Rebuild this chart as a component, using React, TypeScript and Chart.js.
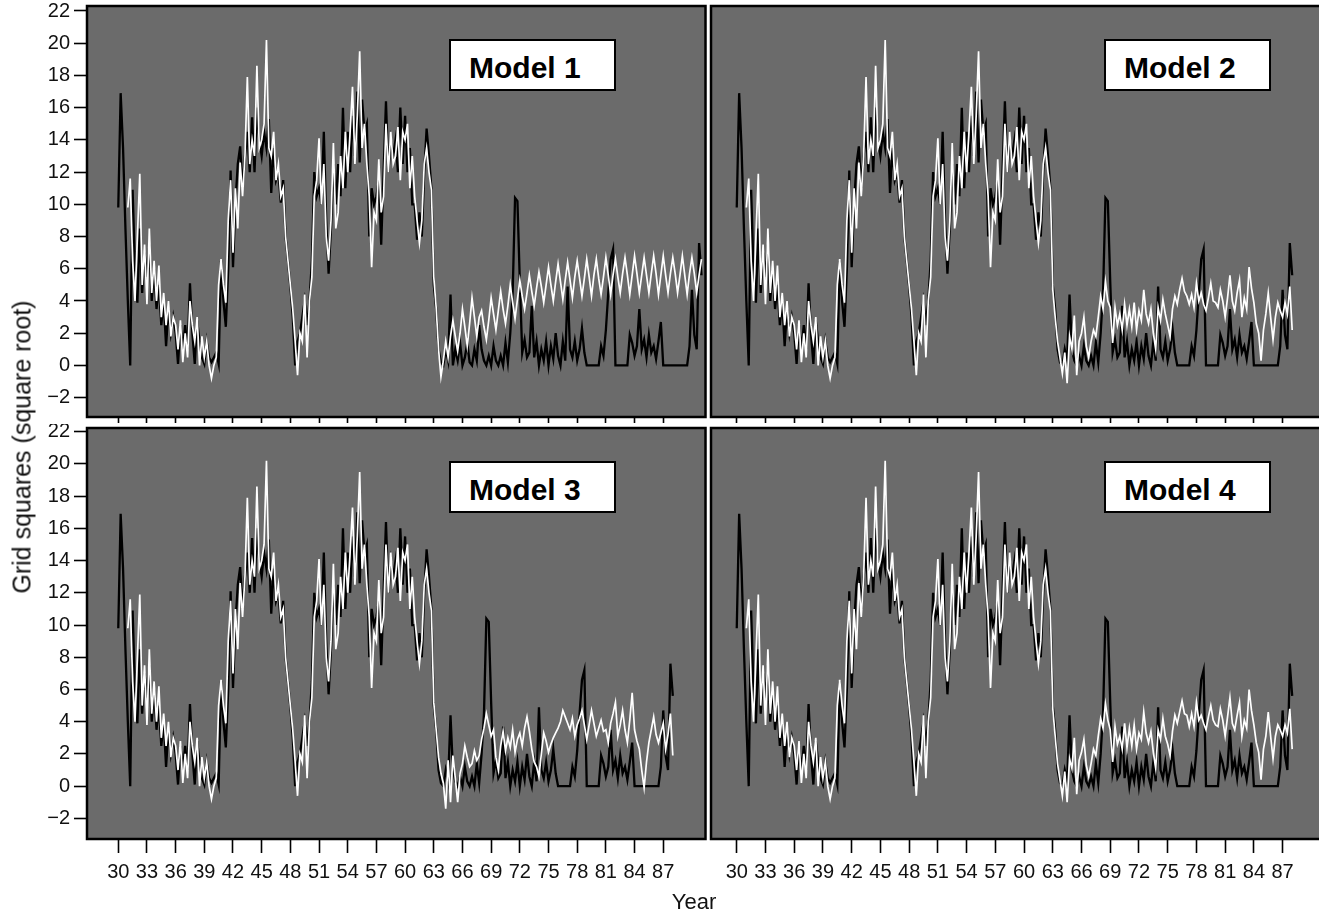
import React, { useEffect, useRef } from "react";
import { Chart, registerables } from "chart.js";

Chart.register(...registerables);

// ---------------- data ----------------
const START_YEAR = 30;
const STEP = 0.25; // quarterly samples

const xTickYears = [30, 33, 36, 39, 42, 45, 48, 51, 54, 57, 60, 63, 66, 69, 72, 75, 78, 81, 84, 87];
const yTickValues = [-2, 0, 2, 4, 6, 8, 10, 12, 14, 16, 18, 20, 22];

// observed grid squares (black), 1930.00 - 1962.75
const observedEarly = [
  9.8, 16.9, 13.5, 8.5,
  4.0, 0.0, 10.9, 6.0,
  3.9, 8.5, 4.5, 7.0,
  5.5, 7.5, 4.0, 6.0,
  3.5, 5.0, 2.5, 4.0,
  1.2, 3.5, 2.0, 3.0,
  2.0, 0.1, 2.5, 1.0,
  2.5, 1.0, 5.1, 2.0,
  0.1, 2.8, 1.5, 0.5,
  0.1, 1.5, 0.5, 0.2,
  0.5, 0.8, 0.1, 6.5,
  4.0, 2.4, 6.0, 12.1,
  6.1, 10.0, 12.5, 13.6,
  11.0, 13.0, 14.5, 12.0,
  15.4, 12.0, 16.0, 14.0,
  13.0, 14.5, 13.5, 15.3,
  10.7, 13.5, 11.5, 12.0,
  10.1, 11.5, 8.0, 6.5,
  4.9, 3.0, 0.0, 1.5,
  2.0, 3.0, 4.0, 2.5,
  4.0, 6.5, 12.0, 10.5,
  11.0, 10.0, 14.5, 9.0,
  5.7, 8.5, 12.5, 10.0,
  12.5, 10.5, 16.0, 11.0,
  14.5, 12.0, 15.5, 13.0,
  17.0, 12.6, 16.5, 14.5,
  15.0, 8.0, 11.0, 10.0,
  10.5, 11.5, 7.5, 12.0,
  16.4, 12.0, 14.0, 13.0,
  14.0, 12.0, 16.0, 12.5,
  15.5, 12.0, 13.5, 10.0,
  10.0, 7.8, 9.5, 8.0,
  12.0, 14.7, 13.0, 11.0,
];

// observed (black), 1963.00 - 1988.00
const observedLate = [
  5.0, 3.5, 1.0, 0.2,
  0.0, 1.0, 0.3, 4.4,
  1.0, 0.3, 0.0, 0.6,
  0.0, 1.2, 0.3, 0.0,
  0.6, 0.0, 1.4, 0.2,
  2.0, 4.5, 10.4, 10.2,
  5.2, 0.8, 1.6, 0.5,
  0.8, 3.7, 0.5, 1.5,
  0.0, 1.0, 0.3, 1.5,
  0.0, 1.2, 0.4, 2.0,
  0.6, 0.0, 1.5, 0.3,
  4.9, 1.0, 0.5, 1.5,
  0.3, 1.0, 2.3, 0.8,
  0.0, 0.0, 0.0, 0.0,
  0.0, 0.0, 1.2, 0.6,
  2.2, 4.5, 6.6, 7.2,
  0.0, 0.0, 0.0, 0.0,
  0.0, 0.0, 1.9, 1.4,
  0.6, 1.2, 3.5, 1.0,
  1.6, 0.5, 1.9, 0.8,
  1.2, 0.4, 1.5, 2.7,
  0.0, 0.0, 0.0, 0.0,
  0.0, 0.0, 0.0, 0.0,
  0.0, 0.0, 0.0, 1.2,
  4.7, 1.9, 1.0, 7.6,
  5.6,
];

// the Model 1 panel shows three extra low years after 1965
const observedExtraModel1 = [
  0.0, 1.0, 0.3, 1.4,
  0.0, 0.5, 1.4, 0.2,
  0.0, 1.0, 0.3, 2.5,
];

// fitted values (white), 1930.00 - 1962.75, common to the models
const fittedEarly = [
  null, null, null, null,
  9.8, 11.6, 6.5, 4.0,
  8.0, 11.9, 5.0, 7.5,
  3.8, 8.5, 4.5, 6.5,
  4.0, 6.2, 3.0, 4.5,
  2.5, 4.0, 1.8, 3.0,
  2.5, 1.0, 2.8, 0.2,
  2.0, 0.5, 4.0, 2.5,
  1.5, 3.0, 0.0, 1.8,
  0.5, 1.5, 0.0, -0.8,
  0.0, 0.5, 5.0, 6.6,
  5.0, 3.9, 9.0, 11.5,
  7.0, 11.0, 8.5, 12.6,
  10.5, 13.0, 17.9, 12.5,
  14.0, 13.0, 18.6, 13.5,
  14.0, 15.0, 20.2, 13.5,
  13.0, 14.5, 11.5, 12.5,
  10.5, 11.0, 8.0, 6.5,
  5.0, 3.5, 1.5, -0.6,
  2.0, 1.5, 4.4, 0.5,
  4.0, 5.5, 10.5, 11.5,
  14.1, 10.0, 12.5, 8.0,
  6.5, 9.0, 13.8, 8.5,
  9.5, 13.0, 11.0, 14.5,
  12.0, 14.5, 17.3, 12.5,
  15.5, 19.5, 13.5, 15.0,
  12.5, 10.5, 6.1, 9.5,
  9.0, 12.8, 9.5, 10.5,
  15.0, 12.0, 14.5, 12.5,
  13.0, 14.8, 11.5, 14.5,
  14.0, 15.0, 11.0, 13.0,
  10.5, 9.0, 7.6, 9.0,
  12.5, 13.5, 12.0, 10.9,
];

// Model 1 fitted (white), 1963.00 - 1991.00
const model1Late = [
  5.5, 3.6, 1.0, -0.7,
  0.3, 1.5, 0.5, 1.8,
  2.8, 1.8, 0.9, 2.0,
  3.5, 2.4, 1.2, 2.6,
  4.2, 3.0, 1.8, 3.0,
  3.4, 2.4, 1.6, 2.8,
  4.2, 3.2, 2.2, 3.4,
  4.6, 3.5, 2.6, 3.7,
  5.0, 3.9, 2.9, 4.1,
  5.3, 4.3, 3.5, 4.5,
  5.6, 4.6, 3.7, 4.8,
  5.8, 4.9, 3.9, 5.0,
  6.1, 5.0, 4.0, 5.2,
  6.3, 5.2, 4.1, 5.3,
  6.4, 5.3, 4.2, 5.5,
  6.5, 5.4, 4.3, 5.4,
  6.6, 5.5, 4.3, 5.6,
  6.6, 5.4, 4.4, 5.5,
  6.7, 5.6, 4.4, 5.6,
  6.6, 5.5, 4.5, 5.7,
  6.7, 5.6, 4.4, 5.6,
  6.8, 5.7, 4.5, 5.6,
  6.7, 5.6, 4.5, 5.7,
  6.8, 5.7, 4.4, 5.6,
  6.8, 5.6, 4.5, 5.7,
  6.7, 5.7, 4.5, 5.6,
  6.8, 5.6, 4.4, 5.7,
  6.7, 5.7, 4.5, 5.6,
  6.6,
];

// Model 2 fitted (white), 1963.00 - 1988.00
const model2Late = [
  4.7, 3.0, 1.5, 0.5,
  -0.5, 0.8, -1.1, 1.8,
  1.0, 3.1, -0.6, 1.5,
  2.0, 3.0, 1.2, 0.5,
  1.5, 2.2, 1.8, 3.0,
  4.3, 3.5, 5.2, 4.0,
  3.6, 1.4, 3.6, 2.5,
  3.2, 2.2, 3.8, 2.5,
  3.5, 2.4, 3.9, 2.2,
  3.4, 2.8, 4.7, 3.2,
  2.6, 3.5, 2.0, 1.0,
  3.6, 2.8, 4.1, 3.2,
  2.5, 1.8, 3.5, 4.3,
  3.8, 4.7, 5.4, 4.6,
  4.3, 3.8, 4.4, 3.6,
  5.1, 4.0, 4.5, 3.8,
  3.4, 4.2, 5.1, 4.0,
  3.9, 3.6, 4.7, 4.0,
  3.0, 4.2, 5.6, 4.0,
  3.4, 4.5, 5.3, 3.0,
  4.2, 3.5, 6.1, 4.8,
  3.9, 2.6, 2.0, 0.3,
  2.2, 3.2, 4.5, 3.0,
  1.6, 3.0, 3.9, 3.4,
  3.0, 3.9, 3.2, 4.9,
  2.2,
];

// Model 3 fitted (white), 1963.00 - 1988.00
const model3Late = [
  5.2, 3.5, 1.8, 0.8,
  0.2, -1.4, 1.6, -1.0,
  1.9, 0.5, -1.0, 0.8,
  1.4, 2.5, 1.8, 1.2,
  1.4, 2.2, 1.6, 1.9,
  2.9, 3.6, 4.5, 3.8,
  3.1, 3.5, 1.8, 1.0,
  2.5, 3.4, 2.2, 3.0,
  2.4, 3.5, 2.1, 2.9,
  3.3, 2.5, 3.6, 4.3,
  3.4, 2.3, 1.5, 1.2,
  0.6, 2.0, 3.3, 2.8,
  2.1, 2.6, 3.0, 3.3,
  3.6, 4.0, 4.7, 4.3,
  3.9, 3.5, 4.2, 3.1,
  3.8, 4.2, 4.7, 3.8,
  2.9, 3.8, 4.7, 3.9,
  3.1, 3.6, 4.1, 3.4,
  3.5, 2.7, 3.9, 4.5,
  5.2, 3.1, 3.8, 4.7,
  3.5, 2.7, 4.1, 5.8,
  3.5, 2.8, 2.3, 1.0,
  -0.1, 1.5, 2.7, 3.5,
  4.3, 3.2, 2.7, 3.3,
  3.9, 2.3, 3.2, 4.5,
  1.9,
];

// Model 4 fitted (white), 1963.00 - 1988.00
const model4Late = [
  4.8, 3.1, 1.4, 0.4,
  -0.6, 0.9, -1.0, 1.7,
  1.1, 3.0, -0.5, 1.6,
  2.1, 2.9, 1.3, 0.6,
  1.4, 2.3, 1.9, 3.1,
  4.2, 3.6, 5.1, 4.1,
  3.5, 1.5, 3.7, 2.6,
  3.1, 2.3, 3.9, 2.4,
  3.6, 2.5, 3.8, 2.3,
  3.3, 2.9, 4.6, 3.3,
  2.7, 3.4, 2.1, 1.1,
  3.5, 2.9, 4.2, 3.1,
  2.6, 1.9, 3.4, 4.4,
  3.9, 4.6, 5.3, 4.5,
  4.4, 3.7, 4.5, 3.7,
  5.2, 4.1, 4.4, 3.9,
  3.5, 4.3, 5.0, 4.1,
  3.8, 3.7, 4.8, 4.1,
  3.1, 4.3, 5.5, 3.9,
  3.5, 4.4, 5.2, 3.1,
  4.1, 3.6, 6.0, 4.7,
  3.8, 2.7, 2.1, 0.4,
  2.3, 3.1, 4.6, 3.1,
  1.7, 3.1, 3.8, 3.5,
  3.1, 3.8, 3.3, 4.8,
  2.3,
];

const modelLabels = ["Model 1", "Model 2", "Model 3", "Model 4"];

// ---------------- styling ----------------
const FONT = "'Liberation Sans', Arial, Helvetica, sans-serif";
const PLOT_BG = "#6b6b6b";
const TEXT = "#111111";

type Series = (number | null)[];

function toPoints(values: Series) {
  return values.map((v, i) => ({ x: START_YEAR + i * STEP, y: v }));
}

const observedModel1: Series = [
  ...observedEarly,
  ...observedLate.slice(0, 8),
  ...observedExtraModel1,
  ...observedLate.slice(8),
];
const observedOther: Series = [...observedEarly, ...observedLate];

type PanelDef = {
  left: number; top: number; width: number; height: number;
  area: { left: number; top: number; right: number; bottom: number };
  xMin: number; xMax: number; yMin: number; yMax: number;
  showY: boolean; showXLabels: boolean; xTickLen: number;
  observed: Series; fitted: Series;
  label: string; labelLeft: number; labelTop: number;
};

const LEFT_X = { min: 26.73, max: 91.42 };
const RIGHT_X = { min: 27.31, max: 91.74 };

const panels: PanelDef[] = [
  {
    left: 0, top: 0, width: 708, height: 424,
    area: { left: 87, top: 6, right: 705.5, bottom: 417 },
    xMin: LEFT_X.min, xMax: LEFT_X.max, yMin: -3.2, yMax: 22.31,
    showY: true, showXLabels: false, xTickLen: 6,
    observed: observedModel1, fitted: [...fittedEarly, ...model1Late],
    label: modelLabels[0], labelLeft: 449, labelTop: 39,
  },
  {
    left: 708, top: 0, width: 625, height: 424,
    area: { left: 1.5, top: 6, right: 620, bottom: 417 },
    xMin: RIGHT_X.min, xMax: RIGHT_X.max, yMin: -3.2, yMax: 22.31,
    showY: false, showXLabels: false, xTickLen: 6,
    observed: observedOther, fitted: [...fittedEarly, ...model2Late],
    label: modelLabels[1], labelLeft: 1104, labelTop: 39,
  },
  {
    left: 0, top: 424, width: 708, height: 492,
    area: { left: 87, top: 4, right: 705.5, bottom: 415 },
    xMin: LEFT_X.min, xMax: LEFT_X.max, yMin: -3.28, yMax: 22.23,
    showY: true, showXLabels: true, xTickLen: 14,
    observed: observedOther, fitted: [...fittedEarly, ...model3Late],
    label: modelLabels[2], labelLeft: 449, labelTop: 461,
  },
  {
    left: 708, top: 424, width: 625, height: 492,
    area: { left: 1.5, top: 4, right: 620, bottom: 415 },
    xMin: RIGHT_X.min, xMax: RIGHT_X.max, yMin: -3.28, yMax: 22.23,
    showY: false, showXLabels: true, xTickLen: 14,
    observed: observedOther, fitted: [...fittedEarly, ...model4Late],
    label: modelLabels[3], labelLeft: 1104, labelTop: 461,
  },
];

const panelFrame = {
  id: "panelFrame",
  beforeDatasetsDraw(chart: any) {
    const { ctx, chartArea: a } = chart;
    ctx.save();
    ctx.fillStyle = PLOT_BG;
    ctx.fillRect(a.left, a.top, a.right - a.left, a.bottom - a.top);
    ctx.restore();
  },
  afterDatasetsDraw(chart: any) {
    const { ctx, chartArea: a } = chart;
    ctx.save();
    ctx.strokeStyle = "#000";
    ctx.lineWidth = 2.5;
    ctx.strokeRect(a.left, a.top, a.right - a.left, a.bottom - a.top);
    ctx.restore();
  },
};

function PanelChart({ p }: { p: PanelDef }) {
  const ref = useRef<HTMLCanvasElement>(null);
  useEffect(() => {
    const canvas = ref.current;
    if (!canvas) return;
    const chart = new Chart(canvas, {
      type: "line",
      data: {
        datasets: [
          {
            data: toPoints(p.fitted) as any,
            borderColor: "#ffffff",
            borderWidth: 1.7,
            pointRadius: 0,
            tension: 0,
            spanGaps: false,
          },
          {
            data: toPoints(p.observed) as any,
            borderColor: "#000000",
            borderWidth: 2.3,
            pointRadius: 0,
            tension: 0,
            spanGaps: false,
          },
        ],
      },
      options: {
        responsive: false,
        maintainAspectRatio: false,
        animation: false,
        events: [],
        layout: {
          padding: {
            left: p.showY ? 0 : p.area.left,
            top: p.area.top,
            right: p.width - p.area.right,
            bottom: 0,
          },
        },
        plugins: {
          legend: { display: false },
          tooltip: { enabled: false },
        },
        scales: {
          x: {
            type: "linear",
            min: p.xMin,
            max: p.xMax,
            afterBuildTicks: (s: any) => {
              s.ticks = xTickYears.map((v) => ({ value: v }));
            },
            afterFit: (s: any) => {
              s.height = p.height - p.area.bottom;
              s.paddingLeft = 0;
              s.paddingRight = 0;
            },
            border: { display: false },
            grid: {
              drawOnChartArea: false,
              drawTicks: true,
              tickLength: p.xTickLen,
              tickColor: "#000",
              tickWidth: 1.6,
            },
            ticks: {
              display: p.showXLabels,
              autoSkip: false,
              maxRotation: 0,
              padding: 7,
              color: TEXT,
              font: { family: FONT, size: 20 },
              callback: (v: any) => String(v),
            },
          },
          y: {
            type: "linear",
            display: p.showY,
            min: p.yMin,
            max: p.yMax,
            afterBuildTicks: (s: any) => {
              s.ticks = yTickValues.map((v) => ({ value: v }));
            },
            afterFit: (s: any) => {
              s.width = p.area.left;
              s.paddingTop = 0;
              s.paddingBottom = 0;
            },
            border: { display: false },
            grid: {
              drawOnChartArea: false,
              drawTicks: true,
              tickLength: 13,
              tickColor: "#000",
              tickWidth: 1.6,
            },
            ticks: {
              autoSkip: false,
              padding: 4,
              color: TEXT,
              font: { family: FONT, size: 20 },
              callback: (v: any) => (v < 0 ? "\u2212" + Math.abs(v) : String(v)),
            },
          },
        },
      },
      plugins: [panelFrame],
    } as any);
    return () => chart.destroy();
  }, [p]);
  return (
    <canvas
      ref={ref}
      width={p.width}
      height={p.height}
      style={{ position: "absolute", left: p.left, top: p.top, width: p.width, height: p.height }}
    />
  );
}

export default function App() {
  return (
    <div
      style={{
        position: "absolute",
        left: 0,
        top: 0,
        width: 1319,
        height: 916,
        overflow: "hidden",
        background: "#ffffff",
        fontFamily: FONT,
      }}
    >
      {panels.map((p, i) => (
        <PanelChart key={i} p={p} />
      ))}
      {panels.map((p, i) => (
        <div
          key={"lab" + i}
          style={{
            position: "absolute",
            left: p.labelLeft,
            top: p.labelTop,
            width: 167,
            height: 52,
            boxSizing: "border-box",
            border: "2px solid #000",
            background: "#fff",
          }}
        >
          <span
            style={{
              position: "absolute",
              left: 18,
              top: 12,
              fontSize: 30,
              lineHeight: "30px",
              fontWeight: "bold",
              color: "#000",
              whiteSpace: "nowrap",
            }}
          >
            {p.label}
          </span>
        </div>
      ))}
      <div
        style={{
          position: "absolute",
          left: 22,
          top: 447,
          transform: "translate(-50%, -50%) rotate(-90deg)",
          fontSize: 25,
          lineHeight: "25px",
          color: TEXT,
          whiteSpace: "nowrap",
        }}
      >
        Grid squares (square root)
      </div>
      <div
        style={{
          position: "absolute",
          left: 694,
          top: 891,
          transform: "translateX(-50%)",
          fontSize: 22,
          lineHeight: "22px",
          color: TEXT,
          whiteSpace: "nowrap",
        }}
      >
        Year
      </div>
    </div>
  );
}
